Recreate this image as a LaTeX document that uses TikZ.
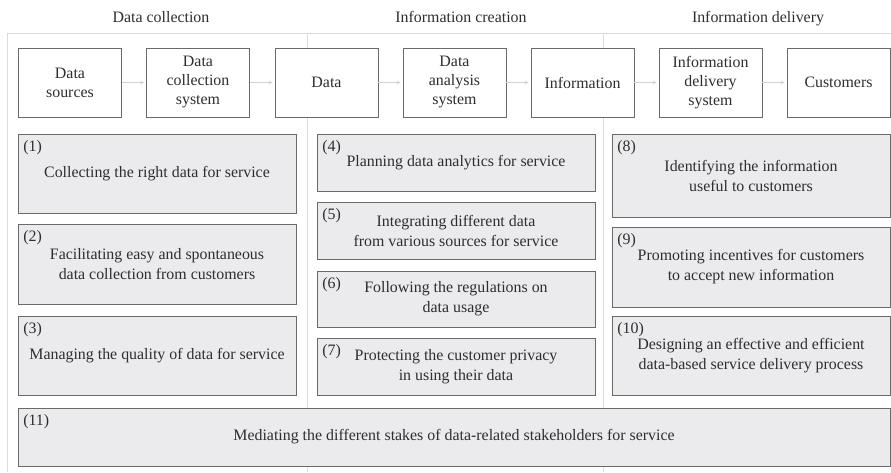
\documentclass[tikz,border=0pt]{standalone}
\usepackage{fontspec}
\setmainfont{Liberation Serif}
\usetikzlibrary{arrows.meta}
\definecolor{txtc}{HTML}{2E2E2E}
\definecolor{boxfill}{HTML}{EBEBED}
\definecolor{bordc}{HTML}{6A6A6A}
\definecolor{framec}{HTML}{DCDCDC}
\definecolor{arrc}{HTML}{D2D2D2}
\tikzset{
  flow/.style={draw=bordc, fill=white, line width=0.8pt, minimum width=103pt, minimum height=69pt,
    align=center, inner sep=0pt, text=txtc, font=\fontsize{15.9}{19}\selectfont},
  task/.style={draw=bordc, fill=boxfill, line width=0.8pt, align=center, inner sep=0pt,
    text=txtc, font=\fontsize{15.9}{20}\selectfont},
  lbl/.style={anchor=base west, inner sep=0pt, text=txtc, font=\fontsize{15.9}{20}\selectfont},
  head/.style={anchor=base, inner sep=0pt, text=txtc, font=\fontsize{15.9}{20}\selectfont},
  arr/.style={draw=arrc, line width=0.6pt, shorten >=2pt, -{Stealth[length=4pt,width=3.5pt]}},
  frameline/.style={draw=framec, line width=0.8pt}
}
\begin{document}
\begin{tikzpicture}[x=1pt,y=-1pt]
\useasboundingbox (0,0) rectangle (891,472);
% frame
\draw[frameline] (7,472) -- (7,33) -- (891,33);
\draw[frameline] (307,33) -- (307,472);
\draw[frameline] (603,33) -- (603,472);
% headers
\node[head] (h1) at (161,22.5) {Data collection};
\node[head] (h2) at (461,22.5) {Information creation};
\node[head] (h3) at (758,22.5) {Information delivery};
% flow boxes
\node[flow] (f1) at (70,82.5) {Data\\sources};
\node[flow] (f2) at (198,82.5) {Data\\collection\\system};
\node[flow] (f3) at (326.5,82.5) {Data};
\node[flow] (f4) at (454.5,82.5) {Data\\analysis\\system};
\node[flow] (f5) at (582.5,82.5) {Information};
\node[flow] (f6) at (710.5,82.5) {Information\\delivery\\system};
\node[flow] (f7) at (838.5,82.5) {Customers};
\draw[arr] (f1) -- (f2);
\draw[arr] (f2) -- (f3);
\draw[arr] (f3) -- (f4);
\draw[arr] (f4) -- (f5);
\draw[arr] (f5) -- (f6);
\draw[arr] (f6) -- (f7);
% task boxes
\node[task, minimum width=278pt, minimum height=79pt] (b1) at (157,173.5) {Collecting the right data for service};
\node[task, minimum width=278pt, minimum height=80pt] (b2) at (157,264) {Facilitating easy and spontaneous\\data collection from customers};
\node[task, minimum width=278pt, minimum height=79pt] (b3) at (157,355.5) {Managing the quality of data for service};
\node[task, minimum width=278pt, minimum height=57pt] (b4) at (456,162.5) {Planning data analytics for service};
\node[task, minimum width=278pt, minimum height=57pt] (b5) at (456,230.5) {Integrating different data\\from various sources for service};
\node[task, minimum width=278pt, minimum height=56pt] (b6) at (456,299) {Following the regulations on\\data usage};
\node[task, minimum width=278pt, minimum height=57pt] (b7) at (456,366.5) {Protecting the customer privacy\\in using their data};
\node[task, minimum width=278pt, minimum height=83pt] (b8) at (751,175.5) {Identifying the information\\useful to customers};
\node[task, minimum width=278pt, minimum height=80pt] (b9) at (751,267) {Promoting incentives for customers\\to accept new information};
\node[task, minimum width=278pt, minimum height=79pt] (b10) at (751,355.5) {Designing an effective and efficient\\data-based service delivery process};
\node[task, minimum width=872pt, minimum height=58pt] (b11) at (454,437) {Mediating the different stakes of data-related stakeholders for service};
% labels
\node[lbl, xshift=5.5pt, yshift=-18pt] (l1) at (b1.north west) {(1)};
\node[lbl, xshift=5.5pt, yshift=-18pt] (l2) at (b2.north west) {(2)};
\node[lbl, xshift=5.5pt, yshift=-18pt] (l3) at (b3.north west) {(3)};
\node[lbl, xshift=5.5pt, yshift=-18pt] (l4) at (b4.north west) {(4)};
\node[lbl, xshift=5.5pt, yshift=-18pt] (l5) at (b5.north west) {(5)};
\node[lbl, xshift=5.5pt, yshift=-18pt] (l6) at (b6.north west) {(6)};
\node[lbl, xshift=5.5pt, yshift=-18pt] (l7) at (b7.north west) {(7)};
\node[lbl, xshift=5.5pt, yshift=-18pt] (l8) at (b8.north west) {(8)};
\node[lbl, xshift=5.5pt, yshift=-18pt] (l9) at (b9.north west) {(9)};
\node[lbl, xshift=5.5pt, yshift=-18pt] (l10) at (b10.north west) {(10)};
\node[lbl, xshift=5.5pt, yshift=-18pt] (l11) at (b11.north west) {(11)};
\end{tikzpicture}
\end{document}
